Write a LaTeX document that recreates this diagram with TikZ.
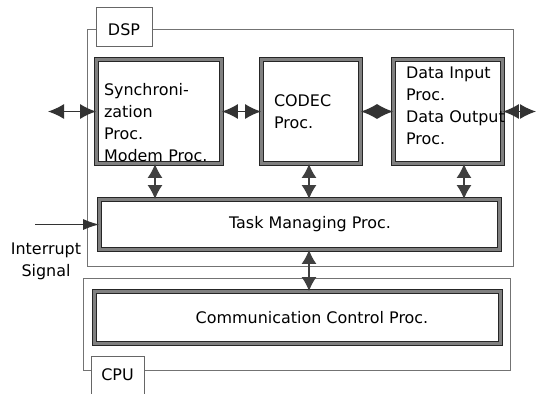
\documentclass[tikz,border=0pt]{standalone}
\usepackage{fontspec}
\setmainfont{DejaVu Sans}
\usetikzlibrary{arrows.meta}

\begin{document}
\begin{tikzpicture}[x=1bp, y=-1bp,
                    every node/.style={font=\fontsize{16}{22}\selectfont},
                    unit/.style={draw=black!55, line width=0.9bp, inner sep=0pt},
                    tag/.style={draw=black!60, line width=0.9bp, fill=white, inner sep=0pt},
                    proc/.style={draw=black!85, double=black!50, double distance=3.4bp, line width=0.8bp, align=left, inner sep=0pt},
                    link/.style={{Latex[length=16bp,width=15bp]}-{Latex[length=16bp,width=15bp]}, draw=black!80, line width=1.3bp},
                    vlink/.style={{Latex[length=14bp,width=15bp]}-{Latex[length=14bp,width=15bp]}, draw=black!75, line width=1.3bp},
                    signal/.style={-{Latex[length=16bp,width=11bp]}, draw=black!80, line width=1bp}
                ]
                \useasboundingbox (0,0) rectangle (542,393);

                % Cadres DSP et CPU
                \node[unit, minimum width=426bp, minimum height=237bp] (dsp) at (300,147.5) {};
                \node[unit, minimum width=427bp, minimum height=92bp] (cpu) at (296.5,324) {};
                \node[tag, minimum width=56bp, minimum height=39bp] (dsptag) at (124,26.5) {\rule{0pt}{19bp}DSP};
                \node[tag, minimum width=53bp, minimum height=38bp] (cputag) at (117.5,375) {CPU};

                % Blocs de traitement
                \node[proc, text width=110bp, minimum width=125bp, minimum height=104bp] (sync) at (159,111.5)
                    {\rule{0pt}{34bp}Synchroni-\\zation\\Proc.\\Modem Proc.};
                \node[proc, text width=74bp, minimum width=99bp, minimum height=104bp] (codec) at (311,111.5)
                    {CODEC\\Proc.};
                \node[proc, text width=84bp, minimum width=109bp, minimum height=104bp] (data) at (448,111.5)
                    {\mbox{Data Input}\\Proc.\\\mbox{Data Output}\\Proc.\rule[-11bp]{0pt}{0pt}};
                \node[proc, align=center, minimum width=400bp, minimum height=50bp] (task) at (299.5,224.5)
                    {\hspace*{21bp}Task Managing Proc.};
                \node[proc, align=center, minimum width=406bp, minimum height=52bp] (comm) at (297.5,317.5)
                    {\hspace*{29bp}Communication Control Proc.};

                \node[align=center, inner sep=0pt] (irqtxt) at (46,261) {Interrupt\\Signal};

                % Liaisons
                \coordinate (inL) at (48,111.5);
                \coordinate (outR) at (536,111.5);
                \coordinate (irq) at (35,224.5);
                \draw[link] (inL) -- (sync.west);
                \draw[link] (sync.east) -- (codec.west);
                \draw[link] (codec.east) -- (data.west);
                \draw[link] (data.east) -- (outR);
                \draw[vlink] ([xshift=-4bp]sync.south) -- ([xshift=-4bp]sync.south |- task.north);
                \draw[vlink] ([xshift=-2bp]codec.south) -- ([xshift=-2bp]codec.south |- task.north);
                \draw[vlink] ([xshift=16bp]data.south) -- ([xshift=16bp]data.south |- task.north);
                \draw[vlink] ([xshift=9.5bp]task.south) -- ([xshift=9.5bp]task.south |- comm.north);
                \draw[signal] (irq) -- (task.west);

\end{tikzpicture}
\end{document}
